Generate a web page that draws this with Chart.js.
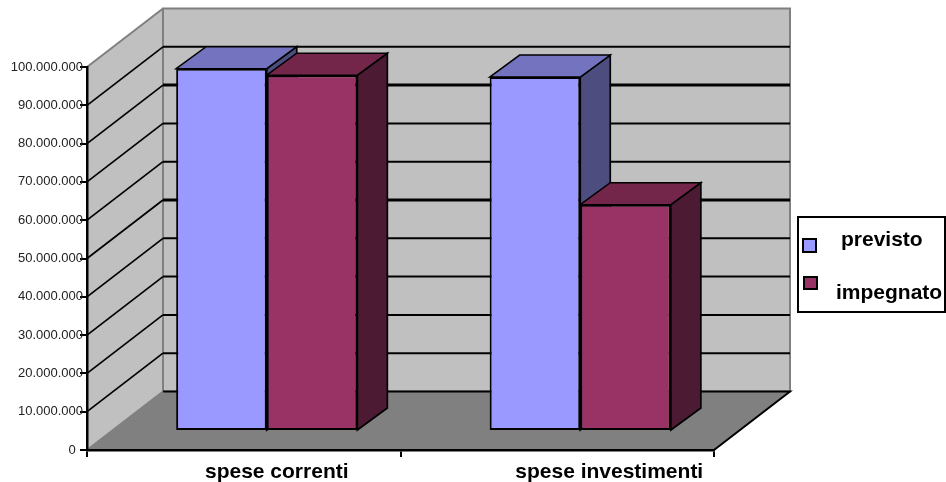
<!DOCTYPE html>
<html>
<head>
<meta charset="utf-8">
<style>
  html, body { margin: 0; padding: 0; background: #fff; }
  canvas { display: block; }
</style>
<script src="https://cdn.jsdelivr.net/npm/chart.js@4/dist/chart.umd.js"></script>
</head>
<body>
<canvas id="chart" width="946" height="482"></canvas>
<script>
// ─── data ───────────────────────────────────────────────────────
const categories = ['spese correnti', 'spese investimenti'];
const previsto   = [94600000, 92400000];
const impegnato  = [92900000, 59100000];
const seriesNames = ['previsto', 'impegnato'];
const yTickLabels = ['0', '10.000.000', '20.000.000', '30.000.000', '40.000.000', '50.000.000',
                     '60.000.000', '70.000.000', '80.000.000', '90.000.000', '100.000.000'];

// ─── fake 3D look ───────────────────────────────────────────────
const FONT = '"Liberation Sans", Arial, sans-serif';
const WALL = { dx: 76, dy: -58.5 };     // depth of the whole box
const BAR_SHIFT = { dx: 23, dy: -19 };  // bars stand inside the floor
const BAR_DEPTH = { dx: 30, dy: -22 };  // depth of a single bar
const FACES = [
  { front: '#9999FF', top: '#7373BF', side: '#4D4D80' },
  { front: '#993366', top: '#732649', side: '#4D1A33' },
];
const CAT_LABEL_SHIFT = [33, 52];       // the labels are not centred in the original
const HEAVY_LINES = [80000000, 50000000];

function poly(ctx, pts, fill, stroke, lw) {
  ctx.beginPath();
  pts.forEach((p, i) => i ? ctx.lineTo(p[0], p[1]) : ctx.moveTo(p[0], p[1]));
  ctx.closePath();
  if (fill) { ctx.fillStyle = fill; ctx.fill(); }
  if (stroke) { ctx.strokeStyle = stroke; ctx.lineWidth = lw; ctx.lineJoin = 'miter'; ctx.stroke(); }
}

const box3d = {
  id: 'box3d',
  // walls, floor and grid lines, under the axes
  beforeDraw(chart) {
    const { ctx, chartArea: a, scales: { y } } = chart;
    const { dx, dy } = WALL;
    const top = y.getPixelForValue(100000000), bot = y.getPixelForValue(0);
    ctx.save();
    poly(ctx, [[a.left, top], [a.left + dx, top + dy], [a.left + dx, bot + dy], [a.left, bot]], '#C0C0C0');
    poly(ctx, [[a.left + dx, top + dy], [a.right + dx, top + dy], [a.right + dx, bot + dy], [a.left + dx, bot + dy]], '#C0C0C0', '#808080', 2);
    ctx.strokeStyle = '#808080';
    ctx.lineWidth = 2;
    ctx.beginPath();
    ctx.moveTo(a.left, top); ctx.lineTo(a.left + dx, top + dy);
    ctx.stroke();

    y.ticks.forEach(t => {
      if (t.value === 0 || t.value === 100000000) return;
      const py = y.getPixelForValue(t.value);
      ctx.strokeStyle = '#000';
      ctx.lineWidth = 1.7;
      ctx.beginPath();
      ctx.moveTo(a.left, py); ctx.lineTo(a.left + dx, py + dy);
      ctx.stroke();
      ctx.lineWidth = HEAVY_LINES.includes(t.value) ? 3 : 2;
      ctx.beginPath();
      ctx.moveTo(a.left + dx, py + dy); ctx.lineTo(a.right + dx, py + dy);
      ctx.stroke();
    });

    poly(ctx, [[a.left, bot], [a.left + dx, bot + dy], [a.right + dx, bot + dy], [a.right, bot]], '#808080');
    ctx.strokeStyle = '#000';
    ctx.lineWidth = 2;
    ctx.beginPath();
    ctx.moveTo(a.left + dx, bot + dy); ctx.lineTo(a.right + dx, bot + dy); ctx.lineTo(a.right, bot);
    ctx.stroke();
    ctx.strokeStyle = '#808080';
    ctx.beginPath();
    ctx.moveTo(a.left, bot); ctx.lineTo(a.left + dx, bot + dy);
    ctx.stroke();
    ctx.restore();
  },
  // top and side of every bar; the translate stays on for the front faces
  beforeDatasetsDraw(chart) {
    const { ctx } = chart;
    ctx.save();
    ctx.translate(BAR_SHIFT.dx, BAR_SHIFT.dy);
    const { dx, dy } = BAR_DEPTH;
    categories.forEach((_, c) => {
      FACES.forEach((f, s) => {
        const b = chart.getDatasetMeta(s).data[c].getProps(['x', 'y', 'base', 'width'], true);
        const l = b.x - b.width / 2, r = b.x + b.width / 2;
        poly(ctx, [[r, b.y], [r + dx, b.y + dy], [r + dx, b.base + dy], [r, b.base]], f.side, '#000', 1.7);
        poly(ctx, [[l, b.y], [l + dx, b.y + dy], [r + dx, b.y + dy], [r, b.y]], f.top, '#000', 1.5);
      });
    });
  },
  afterDatasetsDraw(chart) {
    chart.ctx.restore();
  },
  // category labels and legend box
  afterDraw(chart) {
    const { ctx, scales: { x } } = chart;
    ctx.save();
    ctx.fillStyle = '#000';
    ctx.textBaseline = 'middle';
    ctx.textAlign = 'center';
    ctx.font = 'bold 21px ' + FONT;
    categories.forEach((name, i) => {
      ctx.fillText(name, x.getPixelForValue(i) + CAT_LABEL_SHIFT[i], 472);
    });

    ctx.fillStyle = '#fff';
    ctx.strokeStyle = '#000';
    ctx.lineWidth = 2;
    ctx.fillRect(798, 217, 147, 95);
    ctx.strokeRect(798, 217, 147, 95);
    ctx.fillStyle = FACES[0].front;
    ctx.fillRect(803, 239, 13, 13);
    ctx.strokeRect(803, 239, 13, 13);
    ctx.fillStyle = FACES[1].front;
    ctx.fillRect(804, 277, 13, 12);
    ctx.strokeRect(804, 277, 13, 12);
    ctx.fillStyle = '#000';
    ctx.textAlign = 'left';
    ctx.font = 'bold 21px ' + FONT;
    ctx.fillText(seriesNames[0], 841, 240);
    ctx.fillText(seriesNames[1], 836, 293);
    ctx.restore();
  },
};

const barStyle = { borderColor: '#000', borderWidth: 2, borderSkipped: false, clip: false, categoryPercentage: 0.578, barPercentage: 1 };

new Chart(document.getElementById('chart'), {
  type: 'bar',
  plugins: [box3d],
  data: {
    labels: categories,
    datasets: [
      { label: seriesNames[0], data: previsto, backgroundColor: FACES[0].front, ...barStyle },
      { label: seriesNames[1], data: impegnato, backgroundColor: FACES[1].front, ...barStyle },
    ],
  },
  options: {
    responsive: false,
    animation: false,
    devicePixelRatio: 1,
    layout: { padding: { top: 67, right: 232, bottom: 0, left: 0 } },
    plugins: { legend: { display: false }, title: { display: false }, tooltip: { enabled: false } },
    scales: {
      x: {
        afterFit: s => { s.height = 32; },
        grid: { drawOnChartArea: false, drawTicks: true, tickLength: 7, color: '#000', lineWidth: 2 },
        border: { display: true, color: '#000', width: 2.5 },
        ticks: { display: false },
      },
      y: {
        min: 0,
        max: 100000000,
        afterFit: s => { s.width = 87; },
        grid: { drawOnChartArea: false, drawTicks: true, tickLength: 7, color: '#000', lineWidth: 2 },
        border: { display: true, color: '#000', width: 2.5 },
        ticks: {
          stepSize: 10000000,
          color: '#222',
          padding: -3,
          font: { family: FONT, size: 13 },
          // the 0 sits further left than the long labels in the original
          callback: (v, i) => (i === 0 ? yTickLabels[i] + '  ' : yTickLabels[i]),
        },
      },
    },
  },
});
</script>
</body>
</html>
